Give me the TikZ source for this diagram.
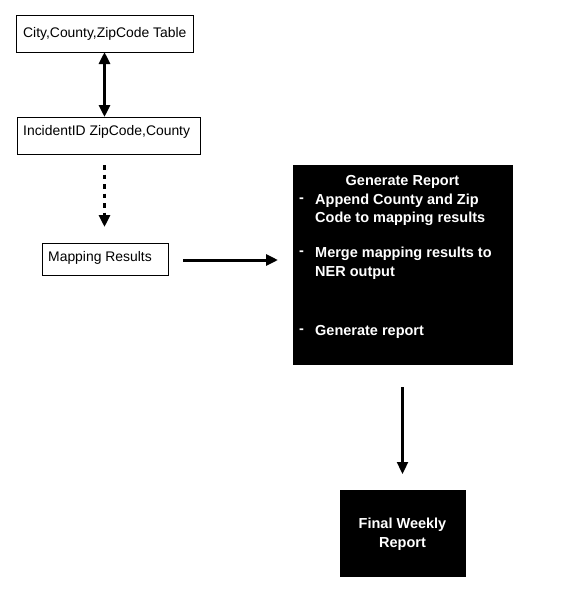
\documentclass[tikz,border=0pt]{standalone}
\usepackage{fontspec}
\setmainfont{Liberation Sans}
\usetikzlibrary{arrows.meta}
\begin{document}
\begin{tikzpicture}[x=1pt,y=-1pt,
  wbox/.style={draw=black,line width=0.9pt,fill=white,inner sep=0pt,outer sep=0pt},
  bbox/.style={fill=black,draw=black,inner sep=0pt,outer sep=0pt},
  lbl/.style={anchor=base west,inner sep=0pt,font=\fontsize{13.9pt}{16pt}\selectfont},
  wlbl/.style={anchor=base west,inner sep=0pt,text=white,font=\bfseries\fontsize{14.5pt}{18pt}\selectfont},
  tip/.style={-{Triangle[length=12pt,width=11pt]}},
  dtip/.style={{Triangle[length=12pt,width=11pt]}-{Triangle[length=12pt,width=11pt]}}
]
\useasboundingbox (0,0) rectangle (584,611);
% white boxes
\node[wbox,minimum width=177pt,minimum height=37pt] (box1) at (104.5,33.5) {};
\node[lbl] (t1) at (23,37.5) {City,County,ZipCode Table};
\node[wbox,minimum width=183pt,minimum height=37pt] (box2) at (108.5,135.5) {};
\node[lbl] (t2) at (23,135.5) {IncidentID ZipCode,County};
\node[wbox,minimum width=126pt,minimum height=32pt] (box3) at (105,259) {};
\node[lbl] (t3) at (48,261) {Mapping Results};
% black boxes
\node[bbox,minimum width=219pt,minimum height=199pt] (gen) at (402.5,264.5) {};
\node[anchor=base,inner sep=0pt,text=white,font=\bfseries\fontsize{14.5pt}{18pt}\selectfont] (gtitle) at (402.5,185.5) {Generate Report};
\node[wlbl] (d1) at (299,202) {-};
\node[wlbl] (g1) at (315,204.5) {Append County and Zip};
\node[wlbl] (g2) at (315,222.5) {Code to mapping results};
\node[wlbl] (d2) at (299,255) {-};
\node[wlbl] (g3) at (315,257.5) {Merge mapping results to};
\node[wlbl] (g4) at (315,276) {NER output};
\node[wlbl] (d3) at (299,333) {-};
\node[wlbl] (g5) at (315,335.5) {Generate report};
\node[bbox,minimum width=125pt,minimum height=86pt] (fin) at (402.5,533) {};
\node[anchor=center,inner sep=0pt,text=white,align=center,font=\bfseries\fontsize{14.5pt}{19pt}\selectfont] (ft) at (402.5,534) {Final Weekly\\Report};
% connectors
\draw[dtip,line width=3pt] (box1.south) -- (box1.south |- box2.north);
\draw[tip,line width=3pt,dash pattern=on 4.5pt off 5pt,shorten <=11pt,shorten >=16pt] (box1.south |- box2.south) -- (box1.south |- box3.north);
\draw[tip,line width=3pt,shorten <=15pt,shorten >=15pt] (box3.east |- 0,260) -- (gen.west |- 0,260);
\draw[tip,line width=2.3pt,shorten <=23pt,shorten >=16pt] (gen.south) -- (fin.north);
\end{tikzpicture}
\end{document}
